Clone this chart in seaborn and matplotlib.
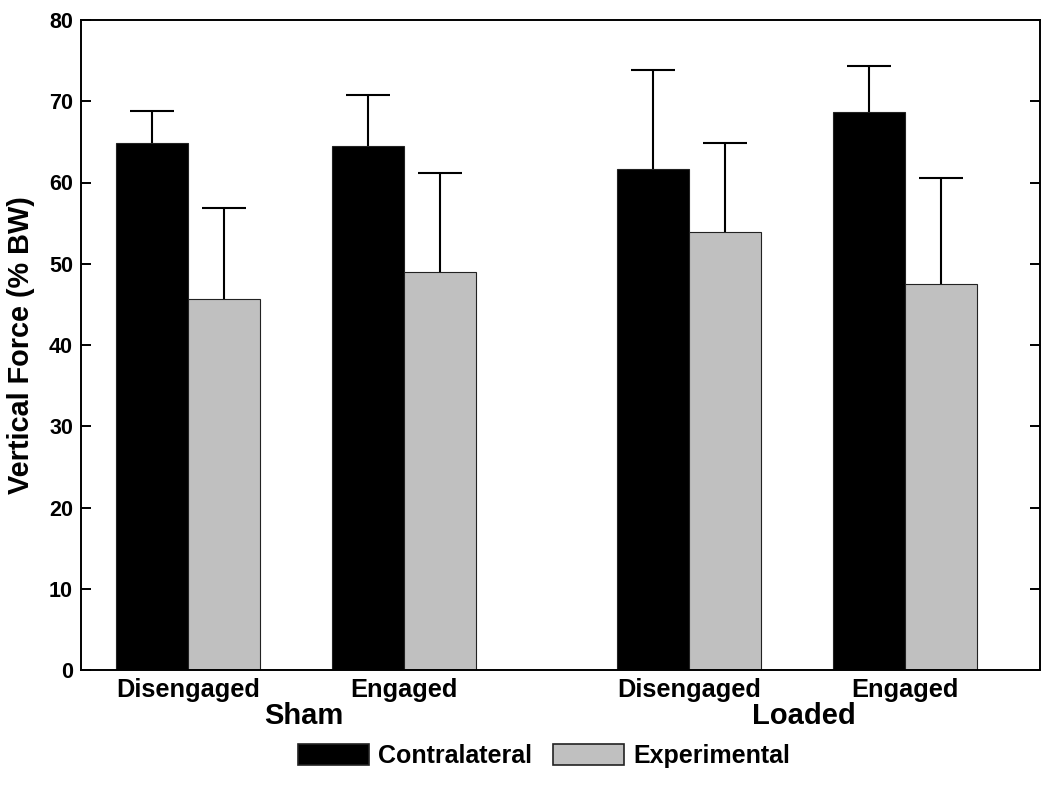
import numpy as np
import pandas as pd
import matplotlib
matplotlib.use("Agg")
import matplotlib.pyplot as plt
import seaborn as sns

# ---- data ----
groups = ["Sham", "Sham", "Loaded", "Loaded"]
conditions = ["Disengaged", "Engaged", "Disengaged", "Engaged"]
series_names = ["Contralateral", "Experimental"]
contralateral = [64.9, 64.5, 61.7, 68.7]
contralateral_err = [3.9, 6.3, 12.1, 5.7]
experimental = [45.7, 49.0, 53.9, 47.5]
experimental_err = [11.2, 12.2, 11.0, 13.1]
y_ticks = [0, 10, 20, 30, 40, 50, 60, 70, 80]

# layout positions of the four condition clusters (larger gap between groups)
positions = [0, 3, 6.96, 9.96]

sns.set_style("ticks")
plt.rcParams["font.family"] = ["Liberation Sans", "DejaVu Sans"]
plt.rcParams["font.weight"] = "bold"
for k in ["text.color", "axes.labelcolor", "xtick.color", "ytick.color", "axes.edgecolor"]:
    plt.rcParams[k] = "black"

rows = []
for i in range(4):
    rows.append(dict(pos=positions[i], series=series_names[0],
                     value=contralateral[i], err=contralateral_err[i]))
    rows.append(dict(pos=positions[i], series=series_names[1],
                     value=experimental[i], err=experimental_err[i]))
df = pd.DataFrame(rows)

fig = plt.figure(figsize=(10.5, 7.86), dpi=100)
ax = fig.add_axes([81 / 1050, 1 - 670 / 786, (1040 - 81) / 1050, (670 - 20) / 786])

sns.barplot(data=df, x="pos", y="value", hue="series", hue_order=series_names,
            palette=["#000000", "#c0c0c0"], native_scale=True, width=2 / 3,
            errorbar=None, saturation=1, edgecolor="#222222", linewidth=0.8,
            ax=ax)

# upper error bars only
for bar in ax.patches:
    h = bar.get_height()
    if h <= 0:
        continue
    match = df[np.isclose(df["value"], h)]
    if match.empty:
        continue
    xc = bar.get_x() + bar.get_width() / 2
    e = match["err"].iloc[0]
    cont = ax.errorbar([xc], [h], yerr=[[0], [e]], fmt="none", ecolor="black",
                       elinewidth=1.5, capsize=15.7, capthick=1.5, zorder=3)
    caps = cont[1]
    if len(caps) == 2:
        caps[0].set_visible(False)

ax.set_xlim(-1.49, 11.83)
ax.set_ylim(0, 80)
ax.set_yticks(y_ticks)
ax.set_xticks(positions)
ax.set_xticklabels(conditions, fontsize=18.3, fontweight="bold")
ax.tick_params(axis="x", length=0, pad=6)
ax.tick_params(axis="y", direction="in", length=7.2, width=1.4, labelsize=15.5,
               pad=5.8, right=True, left=True)
for lab in ax.get_yticklabels():
    lab.set_fontweight("bold")
ax.set_xlabel("")
ax.set_ylabel("Vertical Force (% BW)", fontsize=20.8, fontweight="bold", labelpad=10)

for sp in ax.spines.values():
    sp.set_visible(True)
    sp.set_linewidth(1.4)
    sp.set_color("black")

# group labels
trans = matplotlib.transforms.blended_transform_factory(ax.transData, ax.transAxes)
group_centers = {"Sham": 1.6, "Loaded": 8.55}
for g, xc in group_centers.items():
    ax.text(xc, -0.0708, g, transform=trans, ha="center", va="center",
            fontsize=21, fontweight="bold")

sns.move_legend(ax, "center", bbox_to_anchor=(0.483, -0.1323), ncol=2,
                frameon=False, title=None, fontsize=18, handlelength=2.84,
                handleheight=0.96, handletextpad=0.36, columnspacing=0.84)
leg = ax.get_legend()
for t in leg.get_texts():
    t.set_fontweight("bold")
    t.set_color("black")
for h in leg.legend_handles:
    h.set_edgecolor("#222222")
    h.set_linewidth(1.2)

fig.savefig("out.png", dpi=100)
